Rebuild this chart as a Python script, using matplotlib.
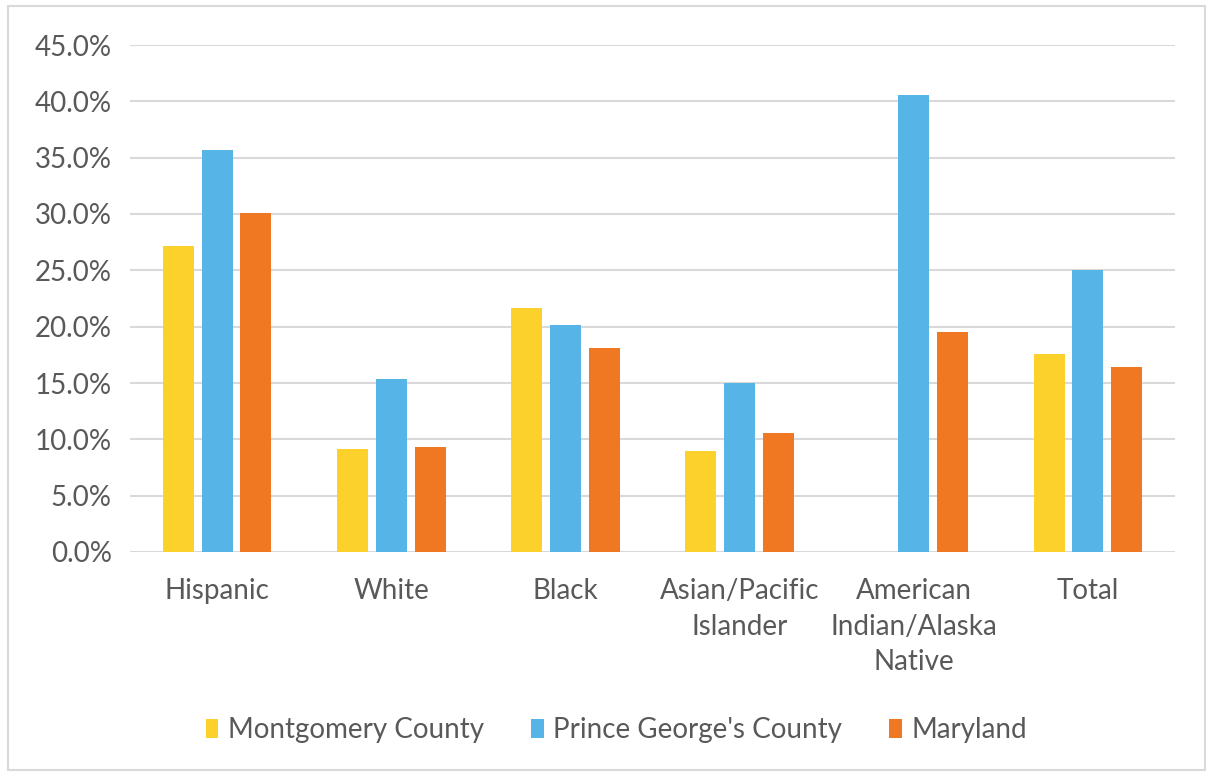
import matplotlib.pyplot as plt
import numpy as np
from matplotlib.patches import Rectangle
from matplotlib.ticker import FuncFormatter

plt.rcParams['font.family'] = ['Lato', 'DejaVu Sans']

categories = ["Hispanic", "White", "Black", "Asian/Pacific\nIslander",
              "American\nIndian/Alaska\nNative", "Total"]
montgomery = [27.2, 9.1, 21.7, 9.0, np.nan, 17.6]
prince_georges = [35.7, 15.35, 20.15, 15.0, 40.6, 25.0]
maryland = [30.05, 9.35, 18.15, 10.55, 19.5, 16.45]
series_names = ["Montgomery County", "Prince George's County", "Maryland"]
series_colors = ["#FDD12B", "#56B4E6", "#F07822"]

text_color = "#595959"

fig = plt.figure(figsize=(12.13, 7.76), dpi=100)
ax = fig.add_axes([130 / 1213, 1 - 552 / 776, 1045 / 1213, 507 / 776])

x = np.arange(len(categories))
width = 0.178
step = 0.223
for i, (vals, name, col) in enumerate(zip([montgomery, prince_georges, maryland],
                                          series_names, series_colors)):
    ax.bar(x + (i - 1) * step, vals, width, color=col, label=name, zorder=3)

ax.set_xlim(-0.5, len(categories) - 0.5)
ax.set_ylim(0, 45)
ax.set_yticks(np.arange(0, 46, 5))
ax.yaxis.set_major_formatter(FuncFormatter(lambda v, _: f"{v:.1f}%"))
ax.grid(axis="y", color="#D9D9D9", linewidth=1.5, zorder=0)
for s in ax.spines.values():
    s.set_visible(False)
ax.tick_params(axis="both", length=0, colors=text_color, labelsize=20)
ax.tick_params(axis="y", pad=13)
ax.tick_params(axis="x", pad=19)
ax.set_xticks(x)
ax.set_xticklabels(categories, linespacing=1.45)

fig.legend(loc="center", bbox_to_anchor=(0.5 + 10 / 1213, 1 - 730 / 776), ncol=3,
           frameon=False, fontsize=20, labelcolor=text_color, handlelength=0.45,
           handleheight=0.7, handletextpad=0.35, columnspacing=1.7)

fig.patches.append(Rectangle((8 / 1213, 6 / 776), 1197 / 1213, 764 / 776,
                             transform=fig.transFigure, fill=False,
                             edgecolor="#D9D9D9", linewidth=1.5))

fig.savefig("out.png", dpi=100, facecolor="white")
